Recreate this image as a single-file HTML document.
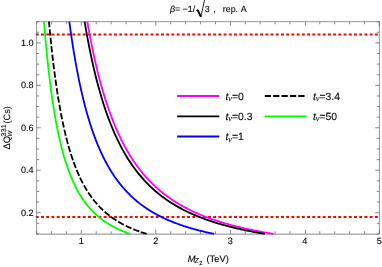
<!DOCTYPE html><html><head><meta charset="utf-8"><style>html,body{margin:0;padding:0;background:#fff}svg{display:block;will-change:transform}text{font-family:"Liberation Sans",sans-serif;fill:#000;stroke:#000;stroke-width:0.1;text-rendering:geometricPrecision}</style></head><body>
<svg width="382" height="267" viewBox="0 0 382 267">
<rect width="382" height="267" fill="#fff"/>
<line x1="35.800000000000004" x2="378.59999999999997" y1="34.60" y2="34.60" stroke="#ff0000" stroke-width="2.0" stroke-dasharray="2.9 2.317"/>
<line x1="35.800000000000004" x2="378.59999999999997" y1="216.92" y2="216.92" stroke="#ff0000" stroke-width="2.0" stroke-dasharray="2.9 2.317"/>
<g stroke="#666" stroke-width="0.78" fill="none">
<path d="M36.6 234.1 V21.65 H379.4 V234.1" stroke-width="0.68"/>
<path d="M36.25 234.15 H379.75"/>
<path d="M36.60 233.9 v-2.6 M36.60 21.65 v2.6"/>
<path d="M51.50 233.9 v-2.6 M51.50 21.65 v2.6"/>
<path d="M66.41 233.9 v-2.6 M66.41 21.65 v2.6"/>
<path d="M81.31 233.9 v-4.1 M81.31 21.65 v4.1"/>
<path d="M96.22 233.9 v-2.6 M96.22 21.65 v2.6"/>
<path d="M111.12 233.9 v-2.6 M111.12 21.65 v2.6"/>
<path d="M126.03 233.9 v-2.6 M126.03 21.65 v2.6"/>
<path d="M140.93 233.9 v-2.6 M140.93 21.65 v2.6"/>
<path d="M155.83 233.9 v-4.1 M155.83 21.65 v4.1"/>
<path d="M170.74 233.9 v-2.6 M170.74 21.65 v2.6"/>
<path d="M185.64 233.9 v-2.6 M185.64 21.65 v2.6"/>
<path d="M200.55 233.9 v-2.6 M200.55 21.65 v2.6"/>
<path d="M215.45 233.9 v-2.6 M215.45 21.65 v2.6"/>
<path d="M230.36 233.9 v-4.1 M230.36 21.65 v4.1"/>
<path d="M245.26 233.9 v-2.6 M245.26 21.65 v2.6"/>
<path d="M260.17 233.9 v-2.6 M260.17 21.65 v2.6"/>
<path d="M275.07 233.9 v-2.6 M275.07 21.65 v2.6"/>
<path d="M289.97 233.9 v-2.6 M289.97 21.65 v2.6"/>
<path d="M305.43 233.9 v-4.1 M305.43 21.65 v4.1"/>
<path d="M319.78 233.9 v-2.6 M319.78 21.65 v2.6"/>
<path d="M334.69 233.9 v-2.6 M334.69 21.65 v2.6"/>
<path d="M349.59 233.9 v-2.6 M349.59 21.65 v2.6"/>
<path d="M364.50 233.9 v-2.6 M364.50 21.65 v2.6"/>
<path d="M379.40 233.9 v-4.1 M379.40 21.65 v4.1"/>
<path d="M36.6 233.90 h2.6 M379.4 233.90 h-2.6"/>
<path d="M36.6 223.29 h2.6 M379.4 223.29 h-2.6"/>
<path d="M36.6 212.68 h4.1 M379.4 212.68 h-4.1"/>
<path d="M36.6 202.06 h2.6 M379.4 202.06 h-2.6"/>
<path d="M36.6 191.45 h2.6 M379.4 191.45 h-2.6"/>
<path d="M36.6 180.84 h2.6 M379.4 180.84 h-2.6"/>
<path d="M36.6 170.23 h4.1 M379.4 170.23 h-4.1"/>
<path d="M36.6 159.61 h2.6 M379.4 159.61 h-2.6"/>
<path d="M36.6 149.00 h2.6 M379.4 149.00 h-2.6"/>
<path d="M36.6 138.39 h2.6 M379.4 138.39 h-2.6"/>
<path d="M36.6 127.78 h4.1 M379.4 127.78 h-4.1"/>
<path d="M36.6 117.16 h2.6 M379.4 117.16 h-2.6"/>
<path d="M36.6 106.55 h2.6 M379.4 106.55 h-2.6"/>
<path d="M36.6 95.94 h2.6 M379.4 95.94 h-2.6"/>
<path d="M36.6 85.33 h4.1 M379.4 85.33 h-4.1"/>
<path d="M36.6 74.71 h2.6 M379.4 74.71 h-2.6"/>
<path d="M36.6 64.10 h2.6 M379.4 64.10 h-2.6"/>
<path d="M36.6 53.49 h2.6 M379.4 53.49 h-2.6"/>
<path d="M36.6 42.88 h4.1 M379.4 42.88 h-4.1"/>
<path d="M36.6 32.26 h2.6 M379.4 32.26 h-2.6"/>
<path d="M36.6 21.65 h2.6 M379.4 21.65 h-2.6"/>
</g>
<clipPath id="c"><rect x="36.6" y="21.65" width="342.79999999999995" height="212.25"/></clipPath>
<g fill="none" stroke-width="1.8">
<path d="M87.30,21.65 L88.86,30.41 L90.41,38.69 L91.97,46.51 L93.52,53.92 L95.08,60.95 L96.63,67.61 L98.19,73.93 L99.74,79.94 L101.29,85.66 L102.85,91.10 L104.40,96.28 L105.96,101.22 L107.51,105.93 L109.07,110.43 L110.62,114.73 L112.17,118.84 L113.73,122.78 L115.28,126.54 L116.84,130.15 L118.39,133.60 L119.95,136.92 L121.50,140.10 L123.05,143.16 L124.61,146.09 L126.16,148.91 L127.72,151.63 L129.27,154.24 L130.83,156.75 L132.38,159.17 L133.93,161.50 L135.49,163.75 L137.04,165.92 L138.60,168.01 L140.15,170.03 L141.71,171.98 L143.26,173.86 L144.82,175.68 L146.37,177.44 L147.92,179.14 L149.48,180.79 L151.03,182.38 L152.59,183.92 L154.14,185.42 L155.70,186.87 L157.25,188.27 L158.80,189.63 L160.36,190.95 L161.91,192.23 L163.47,193.47 L165.02,194.67 L166.58,195.84 L168.13,196.98 L169.68,198.09 L171.24,199.16 L172.79,200.20 L174.35,201.22 L175.90,202.20 L177.46,203.16 L179.01,204.10 L180.56,205.00 L182.12,205.89 L183.67,206.75 L185.23,207.59 L186.78,208.41 L188.34,209.20 L189.89,209.98 L191.45,210.74 L193.00,211.48 L194.55,212.19 L196.11,212.90 L197.66,213.58 L199.22,214.25 L200.77,214.90 L202.33,215.54 L203.88,216.16 L205.43,216.77 L206.99,217.36 L208.54,217.94 L210.10,218.51 L211.65,219.06 L213.21,219.60 L214.76,220.13 L216.31,220.65 L217.87,221.16 L219.42,221.65 L220.98,222.13 L222.53,222.61 L224.09,223.07 L225.64,223.52 L227.19,223.97 L228.75,224.40 L230.30,224.83 L231.86,225.25 L233.41,225.66 L234.97,226.06 L236.52,226.45 L238.08,226.83 L239.63,227.21 L241.18,227.58 L242.74,227.94 L244.29,228.29 L245.85,228.64 L247.40,228.98 L248.96,229.32 L250.51,229.64 L252.06,229.97 L253.62,230.28 L255.17,230.59 L256.73,230.90 L258.28,231.20 L259.84,231.49 L261.39,231.78 L262.94,232.06 L264.50,232.34 L266.05,232.61 L267.61,232.88 L269.16,233.14 L270.72,233.40 L272.27,233.65 L273.82,233.90" stroke="#ff00ff"/>
<path d="M84.63,21.65 L86.13,30.41 L87.63,38.69 L89.13,46.51 L90.64,53.92 L92.14,60.95 L93.64,67.61 L95.15,73.93 L96.65,79.94 L98.15,85.66 L99.65,91.10 L101.16,96.28 L102.66,101.22 L104.16,105.93 L105.66,110.43 L107.17,114.73 L108.67,118.84 L110.17,122.78 L111.67,126.54 L113.18,130.15 L114.68,133.60 L116.18,136.92 L117.68,140.10 L119.19,143.16 L120.69,146.09 L122.19,148.91 L123.70,151.63 L125.20,154.24 L126.70,156.75 L128.20,159.17 L129.71,161.50 L131.21,163.75 L132.71,165.92 L134.21,168.01 L135.72,170.03 L137.22,171.98 L138.72,173.86 L140.22,175.68 L141.73,177.44 L143.23,179.14 L144.73,180.79 L146.23,182.38 L147.74,183.92 L149.24,185.42 L150.74,186.87 L152.25,188.27 L153.75,189.63 L155.25,190.95 L156.75,192.23 L158.26,193.47 L159.76,194.67 L161.26,195.84 L162.76,196.98 L164.27,198.09 L165.77,199.16 L167.27,200.20 L168.77,201.22 L170.28,202.20 L171.78,203.16 L173.28,204.10 L174.78,205.00 L176.29,205.89 L177.79,206.75 L179.29,207.59 L180.79,208.41 L182.30,209.20 L183.80,209.98 L185.30,210.74 L186.81,211.48 L188.31,212.19 L189.81,212.90 L191.31,213.58 L192.82,214.25 L194.32,214.90 L195.82,215.54 L197.32,216.16 L198.83,216.77 L200.33,217.36 L201.83,217.94 L203.33,218.51 L204.84,219.06 L206.34,219.60 L207.84,220.13 L209.34,220.65 L210.85,221.16 L212.35,221.65 L213.85,222.13 L215.36,222.61 L216.86,223.07 L218.36,223.52 L219.86,223.97 L221.37,224.40 L222.87,224.83 L224.37,225.25 L225.87,225.66 L227.38,226.06 L228.88,226.45 L230.38,226.83 L231.88,227.21 L233.39,227.58 L234.89,227.94 L236.39,228.29 L237.89,228.64 L239.40,228.98 L240.90,229.32 L242.40,229.64 L243.91,229.97 L245.41,230.28 L246.91,230.59 L248.41,230.90 L249.92,231.20 L251.42,231.49 L252.92,231.78 L254.42,232.06 L255.93,232.34 L257.43,232.61 L258.93,232.88 L260.43,233.14 L261.94,233.40 L263.44,233.65 L264.94,233.90" stroke="#000000"/>
<path d="M69.30,21.65 L70.51,30.41 L71.72,38.69 L72.92,46.51 L74.13,53.92 L75.34,60.95 L76.54,67.61 L77.75,73.93 L78.96,79.94 L80.16,85.66 L81.37,91.10 L82.58,96.28 L83.78,101.22 L84.99,105.93 L86.20,110.43 L87.40,114.73 L88.61,118.84 L89.82,122.78 L91.02,126.54 L92.23,130.15 L93.44,133.60 L94.64,136.92 L95.85,140.10 L97.06,143.16 L98.27,146.09 L99.47,148.91 L100.68,151.63 L101.89,154.24 L103.09,156.75 L104.30,159.17 L105.51,161.50 L106.71,163.75 L107.92,165.92 L109.13,168.01 L110.33,170.03 L111.54,171.98 L112.75,173.86 L113.95,175.68 L115.16,177.44 L116.37,179.14 L117.57,180.79 L118.78,182.38 L119.99,183.92 L121.19,185.42 L122.40,186.87 L123.61,188.27 L124.81,189.63 L126.02,190.95 L127.23,192.23 L128.44,193.47 L129.64,194.67 L130.85,195.84 L132.06,196.98 L133.26,198.09 L134.47,199.16 L135.68,200.20 L136.88,201.22 L138.09,202.20 L139.30,203.16 L140.50,204.10 L141.71,205.00 L142.92,205.89 L144.12,206.75 L145.33,207.59 L146.54,208.41 L147.74,209.20 L148.95,209.98 L150.16,210.74 L151.36,211.48 L152.57,212.19 L153.78,212.90 L154.98,213.58 L156.19,214.25 L157.40,214.90 L158.60,215.54 L159.81,216.16 L161.02,216.77 L162.23,217.36 L163.43,217.94 L164.64,218.51 L165.85,219.06 L167.05,219.60 L168.26,220.13 L169.47,220.65 L170.67,221.16 L171.88,221.65 L173.09,222.13 L174.29,222.61 L175.50,223.07 L176.71,223.52 L177.91,223.97 L179.12,224.40 L180.33,224.83 L181.53,225.25 L182.74,225.66 L183.95,226.06 L185.15,226.45 L186.36,226.83 L187.57,227.21 L188.77,227.58 L189.98,227.94 L191.19,228.29 L192.39,228.64 L193.60,228.98 L194.81,229.32 L196.02,229.64 L197.22,229.97 L198.43,230.28 L199.64,230.59 L200.84,230.90 L202.05,231.20 L203.26,231.49 L204.46,231.78 L205.67,232.06 L206.88,232.34 L208.08,232.61 L209.29,232.88 L210.50,233.14 L211.70,233.40 L212.91,233.65 L214.12,233.90" stroke="#0000ff"/>
<path d="M48.98,21.65 L49.79,30.41 L50.61,38.69 L51.42,46.51 L52.23,53.92 L53.05,60.95 L53.86,67.61 L54.68,73.93 L55.49,79.94 L56.31,85.66 L57.12,91.10 L57.94,96.28 L58.75,101.22 L59.56,105.93 L60.38,110.43 L61.19,114.73 L62.01,118.84 L62.82,122.78 L63.64,126.54 L64.45,130.15 L65.27,133.60 L66.08,136.92 L66.89,140.10 L67.71,143.16 L68.52,146.09 L69.34,148.91 L70.15,151.63 L70.97,154.24 L71.78,156.75 L72.59,159.17 L73.41,161.50 L74.22,163.75 L75.04,165.92 L75.85,168.01 L76.67,170.03 L77.48,171.98 L78.30,173.86 L79.11,175.68 L79.92,177.44 L80.74,179.14 L81.55,180.79 L82.37,182.38 L83.18,183.92 L84.00,185.42 L84.81,186.87 L85.63,188.27 L86.44,189.63 L87.25,190.95 L88.07,192.23 L88.88,193.47 L89.70,194.67 L90.51,195.84 L91.33,196.98 L92.14,198.09 L92.95,199.16 L93.77,200.20 L94.58,201.22 L95.40,202.20 L96.21,203.16 L97.03,204.10 L97.84,205.00 L98.66,205.89 L99.47,206.75 L100.28,207.59 L101.10,208.41 L101.91,209.20 L102.73,209.98 L103.54,210.74 L104.36,211.48 L105.17,212.19 L105.99,212.90 L106.80,213.58 L107.61,214.25 L108.43,214.90 L109.24,215.54 L110.06,216.16 L110.87,216.77 L111.69,217.36 L112.50,217.94 L113.32,218.51 L114.13,219.06 L114.94,219.60 L115.76,220.13 L116.57,220.65 L117.39,221.16 L118.20,221.65 L119.02,222.13 L119.83,222.61 L120.64,223.07 L121.46,223.52 L122.27,223.97 L123.09,224.40 L123.90,224.83 L124.72,225.25 L125.53,225.66 L126.35,226.06 L127.16,226.45 L127.97,226.83 L128.79,227.21 L129.60,227.58 L130.42,227.94 L131.23,228.29 L132.05,228.64 L132.86,228.98 L133.68,229.32 L134.49,229.64 L135.30,229.97 L136.12,230.28 L136.93,230.59 L137.75,230.90 L138.56,231.20 L139.38,231.49 L140.19,231.78 L141.00,232.06 L141.82,232.34 L142.63,232.61 L143.45,232.88 L144.26,233.14 L145.08,233.40 L145.89,233.65 L146.71,233.90" stroke="#000000" stroke-dasharray="6.35 2.1" stroke-dashoffset="0.75"/>
<path d="M43.98,21.65 L44.70,30.41 L45.42,38.69 L46.14,46.51 L46.86,53.92 L47.57,60.95 L48.29,67.61 L49.01,73.93 L49.73,79.94 L50.45,85.66 L51.16,91.10 L51.88,96.28 L52.60,101.22 L53.32,105.93 L54.04,110.43 L54.75,114.73 L55.47,118.84 L56.19,122.78 L56.91,126.54 L57.63,130.15 L58.34,133.60 L59.06,136.92 L59.78,140.10 L60.50,143.16 L61.22,146.09 L61.93,148.91 L62.65,151.63 L63.37,154.24 L64.09,156.75 L64.81,159.17 L65.52,161.50 L66.24,163.75 L66.96,165.92 L67.68,168.01 L68.40,170.03 L69.12,171.98 L69.83,173.86 L70.55,175.68 L71.27,177.44 L71.99,179.14 L72.71,180.79 L73.42,182.38 L74.14,183.92 L74.86,185.42 L75.58,186.87 L76.30,188.27 L77.01,189.63 L77.73,190.95 L78.45,192.23 L79.17,193.47 L79.89,194.67 L80.60,195.84 L81.32,196.98 L82.04,198.09 L82.76,199.16 L83.48,200.20 L84.19,201.22 L84.91,202.20 L85.63,203.16 L86.35,204.10 L87.07,205.00 L87.78,205.89 L88.50,206.75 L89.22,207.59 L89.94,208.41 L90.66,209.20 L91.37,209.98 L92.09,210.74 L92.81,211.48 L93.53,212.19 L94.25,212.90 L94.96,213.58 L95.68,214.25 L96.40,214.90 L97.12,215.54 L97.84,216.16 L98.55,216.77 L99.27,217.36 L99.99,217.94 L100.71,218.51 L101.43,219.06 L102.14,219.60 L102.86,220.13 L103.58,220.65 L104.30,221.16 L105.02,221.65 L105.73,222.13 L106.45,222.61 L107.17,223.07 L107.89,223.52 L108.61,223.97 L109.32,224.40 L110.04,224.83 L110.76,225.25 L111.48,225.66 L112.20,226.06 L112.91,226.45 L113.63,226.83 L114.35,227.21 L115.07,227.58 L115.79,227.94 L116.50,228.29 L117.22,228.64 L117.94,228.98 L118.66,229.32 L119.38,229.64 L120.09,229.97 L120.81,230.28 L121.53,230.59 L122.25,230.90 L122.97,231.20 L123.68,231.49 L124.40,231.78 L125.12,232.06 L125.84,232.34 L126.56,232.61 L127.27,232.88 L127.99,233.14 L128.71,233.40 L129.43,233.65 L130.15,233.90" stroke="#00ff00"/>
</g>
<text x="81.31" y="244.15" font-size="9.1" text-anchor="middle">1</text>
<text x="155.83" y="244.15" font-size="9.1" text-anchor="middle">2</text>
<text x="230.36" y="244.15" font-size="9.1" text-anchor="middle">3</text>
<text x="304.88" y="244.15" font-size="9.1" text-anchor="middle">4</text>
<text x="379.40" y="244.15" font-size="9.1" text-anchor="middle">5</text>
<text x="33.6" y="215.78" font-size="9.1" text-anchor="end">0.2</text>
<text x="33.6" y="173.33" font-size="9.1" text-anchor="end">0.4</text>
<text x="33.6" y="130.88" font-size="9.1" text-anchor="end">0.6</text>
<text x="33.6" y="88.43" font-size="9.1" text-anchor="end">0.8</text>
<text x="33.6" y="45.98" font-size="9.1" text-anchor="end">1.0</text>
<text x="169.9" y="11.8" font-size="8.9"><tspan font-style="italic">β</tspan>= −1/</text>
<path d="M195.9 10.7 L197.4 9.6 L200.9 17.0 L204.5 0" fill="none" stroke="#000" stroke-width="0.85" stroke-linejoin="miter"/>
<path d="M197.6 9.9 L200.8 16.7" fill="none" stroke="#000" stroke-width="1.8"/>
<text x="204.8" y="11.8" font-size="8.9">3</text>
<text x="213.2" y="11.8" font-size="8.9">,</text>
<text x="222.8" y="11.8" font-size="8.9">rep.</text>
<text x="240.7" y="11.8" font-size="8.9">A</text>
<line x1="177.1" x2="219.3" y1="96" y2="96" stroke="#ff00ff" stroke-width="1.8"/>
<text x="225.5" y="99.7" font-size="10.4"><tspan font-style="italic">t</tspan><tspan font-size="8.4" dy="1.3" dx="-0.1" font-style="italic" font-family="Liberation Serif">ν</tspan><tspan dy="-1.3" dx="0.0">=0</tspan></text>
<line x1="177.1" x2="219.3" y1="116.4" y2="116.4" stroke="#000" stroke-width="1.8"/>
<text x="225.5" y="120.10000000000001" font-size="10.4"><tspan font-style="italic">t</tspan><tspan font-size="8.4" dy="1.3" dx="-0.1" font-style="italic" font-family="Liberation Serif">ν</tspan><tspan dy="-1.3" dx="0.0">=0.3</tspan></text>
<line x1="177.1" x2="219.3" y1="136.5" y2="136.5" stroke="#0000ff" stroke-width="1.8"/>
<text x="225.5" y="140.2" font-size="10.4"><tspan font-style="italic">t</tspan><tspan font-size="8.4" dy="1.3" dx="-0.1" font-style="italic" font-family="Liberation Serif">ν</tspan><tspan dy="-1.3" dx="0.0">=1</tspan></text>
<line x1="264.7" x2="306.7" y1="96" y2="96" stroke="#000" stroke-width="1.8" stroke-dasharray="6.3 2.1"/>
<text x="313.0" y="99.7" font-size="10.4"><tspan font-style="italic">t</tspan><tspan font-size="8.4" dy="1.3" dx="-0.1" font-style="italic" font-family="Liberation Serif">ν</tspan><tspan dy="-1.3" dx="0.0">=3.4</tspan></text>
<line x1="264.7" x2="306.7" y1="116.4" y2="116.4" stroke="#00ff00" stroke-width="1.8"/>
<text x="313.0" y="120.10000000000001" font-size="10.4"><tspan font-style="italic">t</tspan><tspan font-size="8.4" dy="1.3" dx="-0.1" font-style="italic" font-family="Liberation Serif">ν</tspan><tspan dy="-1.3" dx="0.0">=50</tspan></text>
<text x="187.7" y="262.4" font-size="9.4" font-style="italic">M</text>
<text x="194.5" y="263.0" font-size="6.8" font-style="italic" stroke-width="0.2">Z</text>
<text x="199.2" y="264.9" font-size="5.6" stroke-width="0.2">2</text>
<text x="206.4" y="262.4" font-size="9.4">(TeV)</text>
<g transform="translate(10.0,148.6) rotate(-90)">
<text x="-1.0" y="0" font-size="9.4">ΔQ</text>
<text x="12.1" y="-3.9" font-size="7.0" letter-spacing="0.25">331</text>
<text x="12.2" y="2.4" font-size="6.0" font-style="italic">W</text>
<text x="25.1" y="0" font-size="9.2">(Cs)</text>
</g>
</svg></body></html>
